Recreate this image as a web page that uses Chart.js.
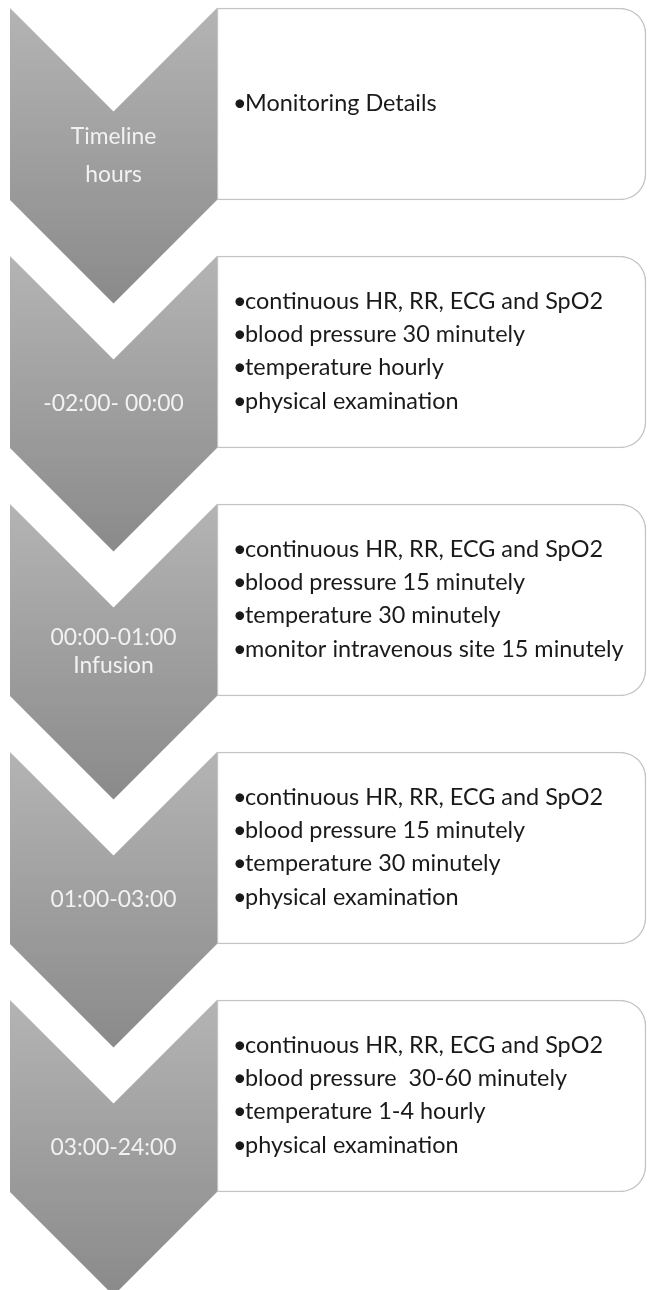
<!DOCTYPE html>
<html>
<head>
<meta charset="utf-8">
<script src="https://cdn.jsdelivr.net/npm/chart.js@4"></script>
<style>
  html, body { margin: 0; padding: 0; background: #ffffff; overflow: hidden; }
  #wrap { position: relative; width: 648px; height: 1290px; overflow: hidden; }
  #c { position: absolute; left: 0; top: -20px; }
</style>
</head>
<body>
<div id="wrap"><canvas id="c" width="648" height="1315"></canvas></div>
<script>
// ---- data ----
const stages = ["Timeline hours", "-02:00- 00:00", "00:00-01:00 Infusion", "01:00-03:00", "03:00-24:00"];
const stageLines = [
  ["Timeline", "hours"],
  ["-02:00- 00:00"],
  ["00:00-01:00", "Infusion"],
  ["01:00-03:00"],
  ["03:00-24:00"]
];
const details = [
  ["Monitoring Details"],
  ["continuous HR, RR, ECG and SpO2", "blood pressure 30 minutely", "temperature hourly", "physical examination"],
  ["continuous HR, RR, ECG and SpO2", "blood pressure 15 minutely", "temperature 30 minutely", "monitor intravenous site 15 minutely"],
  ["continuous HR, RR, ECG and SpO2", "blood pressure 15 minutely", "temperature 30 minutely", "physical examination"],
  ["continuous HR, RR, ECG and SpO2", "blood pressure  30-60 minutely", "temperature 1-4 hourly", "physical examination"]
];

// ---- layout ----
const CHEV_LEFT = 10;
const BOX_LEFT = 217;
const BOX_RIGHT = 646;
const FONT = "Lato, 'Noto Sans', sans-serif";
const BOX_FS = 23.5;
const CHEV_FS = 23.5;

function scaleFor(ctx, text, target, size) {
  ctx.font = size + "px " + FONT;
  return target / ctx.measureText(text).width;
}
function drawScaled(ctx, text, x, y, sx) {
  ctx.save();
  ctx.translate(x, y);
  ctx.scale(sx, 1);
  ctx.fillText(text, 0, 0);
  ctx.restore();
}

const chevronPlugin = {
  id: 'chevrons',
  afterDatasetsDraw(chart) {
    const ctx = chart.ctx;
    const xs = chart.scales.x;
    const meta = chart.getDatasetMeta(0);
    const L = xs.getPixelForValue(0) + CHEV_LEFT;
    const R = xs.getPixelForValue(BOX_LEFT);
    const C = (L + R) / 2;
    const hw = (R - L) / 2;
    const boxSx = scaleFor(ctx, "continuous HR, RR, ECG and SpO2", 358, BOX_FS);
    const chevSx = scaleFor(ctx, "00:00-01:00", 126, CHEV_FS);
    const textX = xs.getPixelForValue(BOX_LEFT) + 16;
    meta.data.forEach((el, i) => {
      const top = el.y - el.height / 2;
      const h = el.height;
      const bot = top + h;
      // chevron
      const g = ctx.createLinearGradient(0, top, 0, bot + hw);
      g.addColorStop(0, '#b4b4b4');
      g.addColorStop(1, '#8a8a8a');
      ctx.save();
      ctx.beginPath();
      ctx.moveTo(L, top);
      ctx.lineTo(C, top + hw);
      ctx.lineTo(R, top);
      ctx.lineTo(R, bot);
      ctx.lineTo(C, bot + hw);
      ctx.lineTo(L, bot);
      ctx.closePath();
      ctx.fillStyle = g;
      ctx.fill();
      // chevron text
      ctx.fillStyle = '#f2f2f2';
      ctx.font = CHEV_FS + "px " + FONT;
      ctx.textAlign = 'center';
      ctx.textBaseline = 'middle';
      const lines = stageLines[i];
      const cy = top + (hw + h) / 2;
      const gap = (i === 0) ? 38 : 28;
      lines.forEach((t, k) => {
        drawScaled(ctx, t, C, cy + (k - (lines.length - 1) / 2) * gap, chevSx);
      });
      // box text
      ctx.fillStyle = '#1a1a1a';
      ctx.font = BOX_FS + "px " + FONT;
      ctx.textAlign = 'left';
      const d = details[i];
      const lh = 33.3;
      const by = el.y - 1;
      d.forEach((t, k) => {
        const y = by + (k - (d.length - 1) / 2) * lh;
        drawScaled(ctx, "\u2022", textX, y, boxSx);
        drawScaled(ctx, t, textX + 12, y, boxSx);
      });
      ctx.restore();
    });
  }
};

new Chart(document.getElementById('c'), {
  type: 'bar',
  data: {
    labels: stages,
    datasets: [{
      data: stages.map(() => [BOX_LEFT, BOX_RIGHT]),
      backgroundColor: '#ffffff',
      borderColor: '#c4c4c4',
      borderWidth: 1.5,
      borderSkipped: false,
      borderRadius: { topLeft: 0, bottomLeft: 0, topRight: 26, bottomRight: 26 },
      barThickness: 192
    }]
  },
  options: {
    indexAxis: 'y',
    responsive: false,
    animation: false,
    devicePixelRatio: 1,
    layout: { padding: { top: 0, bottom: 75, left: 0, right: 0 } },
    plugins: { legend: { display: false }, tooltip: { enabled: false } },
    scales: {
      x: { type: 'linear', min: 0, max: 648, display: false },
      y: { display: false }
    }
  },
  plugins: [chevronPlugin]
});
</script>
</body>
</html>
